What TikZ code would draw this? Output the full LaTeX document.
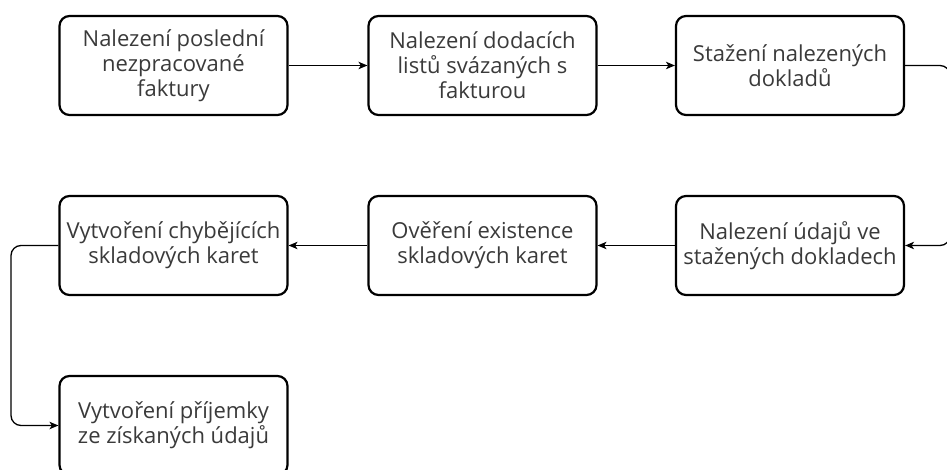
\documentclass[tikz,border=0pt]{standalone}
\usepackage{fontspec}
\setmainfont{Open Sans}
\usetikzlibrary{arrows.meta}
\definecolor{txt}{HTML}{3A3A3A}
\begin{document}
\begin{tikzpicture}[x=1pt,y=-1pt,
  stepbox/.style={draw, line width=2.2pt, rounded corners=10pt,
    minimum width=228pt, minimum height=99pt, inner sep=0pt,
    align=center, text=txt, font=\fontsize{22}{25}\selectfont},
  flow/.style={line width=1.3pt, rounded corners=10pt,
    -{Stealth[length=9pt,width=7.5pt,inset=2.5pt]}}]
\useasboundingbox (0,0) rectangle (947,470);

% first row, left to right
\node[stepbox] (a) at (173.5,65.5) {Nalezení poslední\\nezpracované\\faktury};
\node[stepbox] (b) at (482.5,65.5) {Nalezení dodacích\\listů svázaných s\\fakturou};
\node[stepbox] (c) at (790,65.5) {Stažení nalezených\\dokladů};

% second row, right to left
\node[stepbox] (d) at (790,245.5) {Nalezení údajů ve\\stažených dokladech};
\node[stepbox] (e) at (482.5,245.5) {Ověření existence\\skladových karet};
\node[stepbox] (f) at (173.5,245.5) {Vytvoření chybějících\\skladových karet};

% third row
\node[stepbox] (g) at (173.5,425.5) {Vytvoření příjemky\\ze získaných údajů};

% turning points of the wrap-around connectors
\coordinate (rr) at (950,155);
\coordinate (ll) at (11,335);

\draw[flow] (a) -- (b);
\draw[flow] (b) -- (c);
\draw[flow] (c.east) -| (rr) |- (d.east);
\draw[flow] (d) -- (e);
\draw[flow] (e) -- (f);
\draw[flow] (f.west) -| (ll) |- (g.west);
\end{tikzpicture}
\end{document}
